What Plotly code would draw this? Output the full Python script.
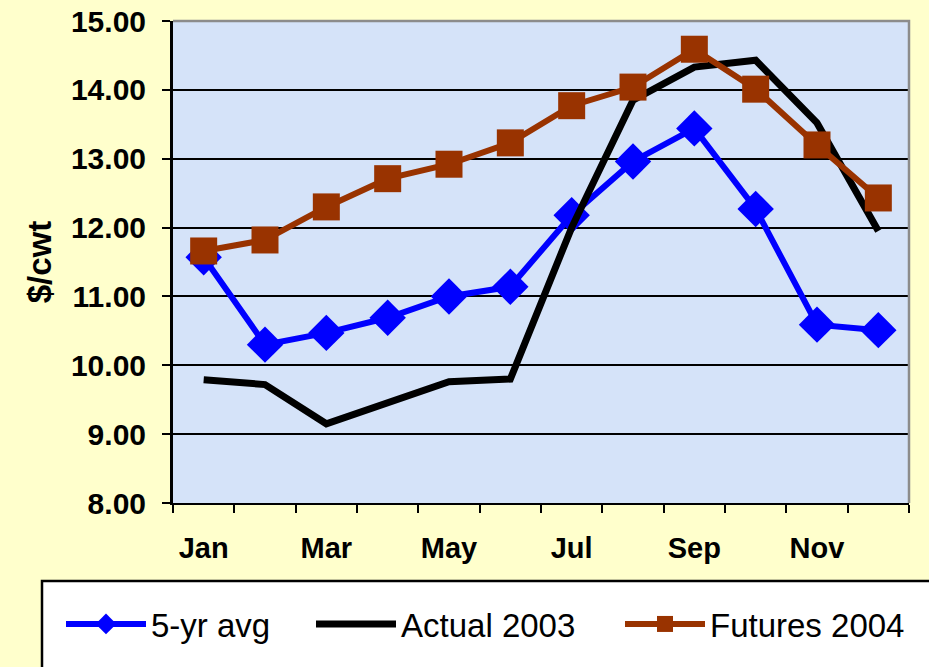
import plotly.graph_objects as go

months = ["Jan", "Feb", "Mar", "Apr", "May", "Jun", "Jul", "Aug", "Sep", "Oct", "Nov", "Dec"]
tick_labels = ["Jan", "", "Mar", "", "May", "", "Jul", "", "Sep", "", "Nov", ""]
y_ticks = [8, 9, 10, 11, 12, 13, 14, 15]

avg5 = [11.57, 10.30, 10.47, 10.69, 11.00, 11.14, 12.18, 12.96, 13.44, 12.27, 10.59, 10.51]
actual2003 = [9.79, 9.72, 9.15, 9.46, 9.76, 9.80, 12.00, 13.85, 14.33, 14.43, 13.52, 11.95]
futures2004 = [11.66, 11.82, 12.30, 12.71, 12.92, 13.23, 13.77, 14.04, 14.59, 14.01, 13.20, 12.43]

FONT = "Liberation Sans, Arial, sans-serif"

fig = go.Figure()
fig.add_trace(go.Scatter(
    x=months, y=avg5, name="5-yr avg", mode="lines+markers",
    line=dict(color="#0000FF", width=6),
    marker=dict(symbol="diamond", size=28, color="#0000FF"),
    legend="legend",
))
fig.add_trace(go.Scatter(
    x=months, y=actual2003, name="Actual 2003", mode="lines",
    line=dict(color="#000000", width=7),
    legend="legend2",
))
fig.add_trace(go.Scatter(
    x=months, y=futures2004, name="Futures 2004", mode="lines+markers",
    line=dict(color="#993300", width=6),
    marker=dict(symbol="square", size=27, color="#993300"),
    legend="legend3",
))

W, H = 929, 667
L, R, T, B = 173, 20, 21, 164
pw, ph = W - L - R, H - T - B

def px_x(p):
    return (p - L) / pw

def px_y(p):
    return (H - B - p) / ph

def legend_at(xpix):
    return dict(
        orientation="h",
        x=px_x(xpix), xanchor="left",
        y=px_y(624), yanchor="middle",
        bgcolor="rgba(0,0,0,0)",
        borderwidth=0,
        font=dict(family=FONT, size=33, color="#000000"),
        itemwidth=80,
    )

fig.update_layout(
    width=W, height=H,
    margin=dict(l=L, r=R, t=T, b=B, autoexpand=False),
    paper_bgcolor="#FFFFCC",
    plot_bgcolor="#D5E3F9",
    font=dict(family=FONT, color="#000000"),
    showlegend=True,
    legend=legend_at(61),
    legend2=legend_at(311),
    legend3=legend_at(620),
    xaxis=dict(
        type="category",
        tickmode="array",
        tickvals=months,
        ticktext=tick_labels,
        tickson="boundaries",
        tickangle=0,
        ticks="outside", ticklen=8, tickwidth=2, tickcolor="#000000",
        showline=True, linecolor="#000000", linewidth=2,
        showgrid=False,
        tickfont=dict(family=FONT, size=29, weight="bold", color="#000000"),
        ticklabelstandoff=18,
        range=[-0.5, 11.5],
        automargin=False,
    ),
    yaxis=dict(
        range=[8, 15],
        tickmode="array",
        tickvals=y_ticks,
        ticktext=[f"{v:.2f}" for v in y_ticks],
        ticks="outside", ticklen=8, tickwidth=2, tickcolor="#000000",
        showline=True, linecolor="#000000", linewidth=3,
        showgrid=True, gridcolor="#000000", gridwidth=2,
        zeroline=False,
        tickfont=dict(family=FONT, size=30, weight="bold", color="#000000"),
        ticklabelstandoff=10,
        title=dict(text="$/cwt", font=dict(family=FONT, size=33, weight="bold", color="#000000"), standoff=10),
        automargin=False,
    ),
    shapes=[
        dict(type="path", xref="x domain", yref="y domain",
             path="M 0,1 L 1,1 L 1,0", line=dict(color="#8C8C8C", width=2.5), layer="above"),
        dict(type="rect", xref="paper", yref="paper",
             x0=px_x(42), x1=px_x(940), y0=px_y(690), y1=px_y(581),
             fillcolor="#FFFFFF", line=dict(color="#000000", width=2.5), layer="below"),
    ],
)

fig.write_html("out.html", config={"displayModeBar": False},
               post_script="document.body.style.margin='0px';")
